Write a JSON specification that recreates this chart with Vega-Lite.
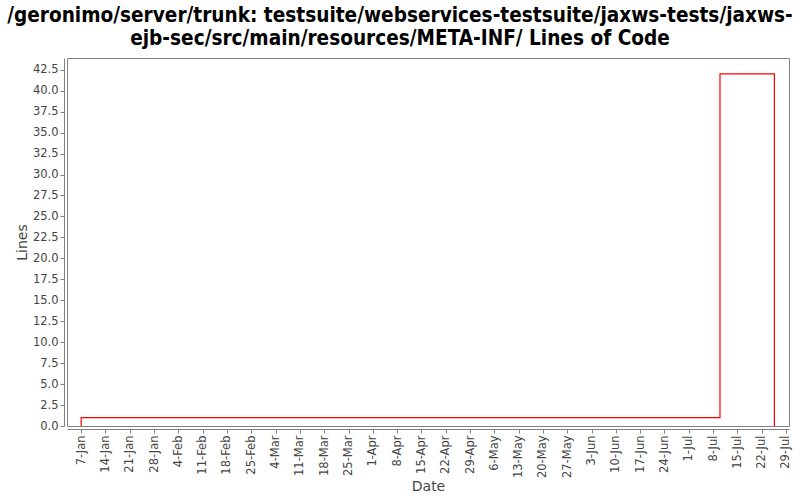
{
  "$schema": "https://vega.github.io/schema/vega-lite/v6.json",
  "autosize": {"type": "none"},
  "width": 722,
  "height": 368,
  "padding": {"left": 67, "top": 58, "right": 11, "bottom": 74},
  "background": "white",
  "title": {
    "text": ["/geronimo/server/trunk: testsuite/webservices-testsuite/jaxws-tests/jaxws-", "ejb-sec/src/main/resources/META-INF/ Lines of Code"],
    "font": "DejaVu Sans Condensed",
    "fontSize": 20.6,
    "fontWeight": "bold",
    "color": "#000000",
    "anchor": "middle",
    "dx": -28,
    "offset": 8,
    "lineHeight": 23
  },
  "config": {
    "view": {"stroke": "#808080", "strokeWidth": 1},
    "axis": {
      "grid": false,
      "domainColor": "#808080",
      "tickColor": "#808080",
      "tickSize": 4,
      "labelFont": "DejaVu Sans",
      "labelFontSize": 11.5,
      "labelColor": "#444444",
      "titleFont": "DejaVu Sans",
      "titleFontSize": 14,
      "titleFontWeight": "normal",
      "titleColor": "#444444",
      "offset": 3
    }
  },
  "data": {
    "values": [
      {"date": "2007-01-07T00:00:00Z", "lines": 0, "i": 0},
      {"date": "2007-01-07T00:00:00Z", "lines": 1, "i": 1},
      {"date": "2007-07-10T00:00:00Z", "lines": 42, "i": 2},
      {"date": "2007-07-25T16:00:00Z", "lines": 0, "i": 3}
    ]
  },
  "mark": {"type": "line", "interpolate": "step-after", "color": "#ff0000", "strokeWidth": 1.2, "clip": true},
  "encoding": {
    "x": {
      "field": "date",
      "type": "temporal",
      "scale": {
        "type": "utc",
        "domain": [
          {"year": 2007, "month": 1, "date": 2, "hours": 22, "utc": true},
          {"year": 2007, "month": 7, "date": 29, "hours": 21, "utc": true}
        ]
      },
      "axis": {
        "title": "Date",
        "format": "%-d-%b",
        "labelAngle": -90,
        "tickCount": {"interval": "week", "step": 1},
        "labelOverlap": false,
        "labelFlush": false,
        "titlePadding": 2
      }
    },
    "y": {
      "field": "lines",
      "type": "quantitative",
      "scale": {"domain": [0, 43.9], "nice": false, "zero": true},
      "axis": {
        "title": "Lines",
        "values": [0, 2.5, 5, 7.5, 10, 12.5, 15, 17.5, 20, 22.5, 25, 27.5, 30, 32.5, 35, 37.5, 40, 42.5],
        "format": ".1f",
        "labelOverlap": false,
        "labelFlush": false,
        "titlePadding": 3
      }
    },
    "order": {"field": "i", "type": "quantitative"}
  }
}
